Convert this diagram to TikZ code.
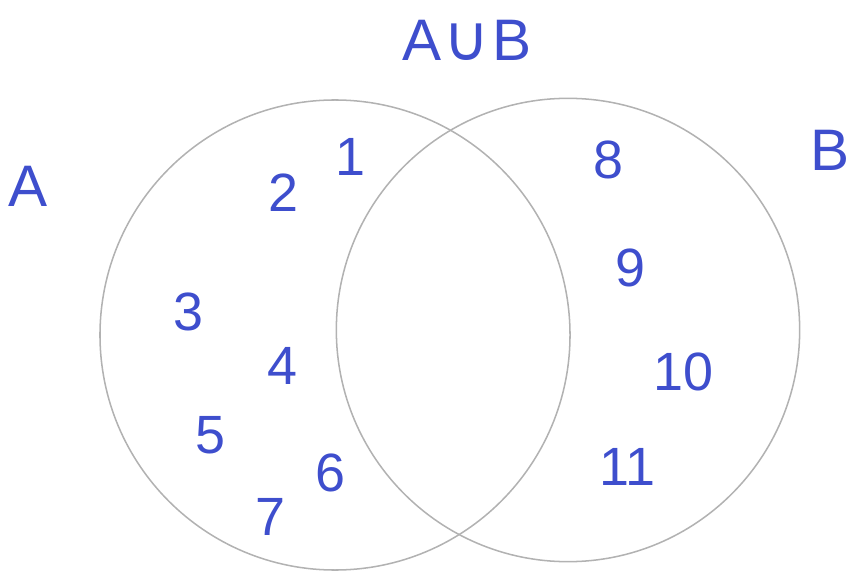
\documentclass[tikz,border=0pt]{standalone}
\usepackage{fontspec}
\setmainfont{Liberation Sans}
\newfontfamily\symbfont{DejaVu Sans}
\usepackage{xcolor}
\definecolor{pencil}{RGB}{178,178,178}
\definecolor{ink}{RGB}{62,78,205}
\usetikzlibrary{positioning}

\begin{document}
\begin{tikzpicture}[
  x=0.03cm, y=-0.03cm,
  setcircle/.style={draw=pencil, circle, line width=1.3pt, inner sep=0pt},
  elem/.style={text=ink, inner sep=0pt, font=\fontsize{46}{54}\selectfont},
  setlabel/.style={text=ink, inner sep=0pt, font=\fontsize{50}{58}\selectfont}
]
\useasboundingbox (0,0) rectangle (848,573);
% the two sets
\node[setcircle, minimum size=14.1cm] (setA) at (335,335) {};
\node[setcircle, minimum size=13.9cm] (setB) at (568,330) {};

% labels
\node[setlabel] (union) at (467,40) {A\kern2pt{\symbfont\fontsize{54}{60}\selectfont ∪}\kern2pt B};
\node[setlabel] (labA) at (28,186) {A};
\node[setlabel] (labB) at (830,150) {B};

% elements of A
\node[elem] (e1) at (350,157) {1};
\node[elem] (e2) at (283,193) {2};
\node[elem] (e3) at (188,312) {3};
\node[elem] (e4) at (282,366) {4};
\node[elem] (e5) at (210,435) {5};
\node[elem] (e6) at (330,473) {6};
\node[elem] (e7) at (270,517) {7};

% elements of B
\node[elem] (e8) at (608,160) {8};
\node[elem] (e9) at (630,268) {9};
\node[elem] (e10) at (683,372) {10};
\node[elem] (e11) at (627,467) {11};
\end{tikzpicture}
\end{document}
